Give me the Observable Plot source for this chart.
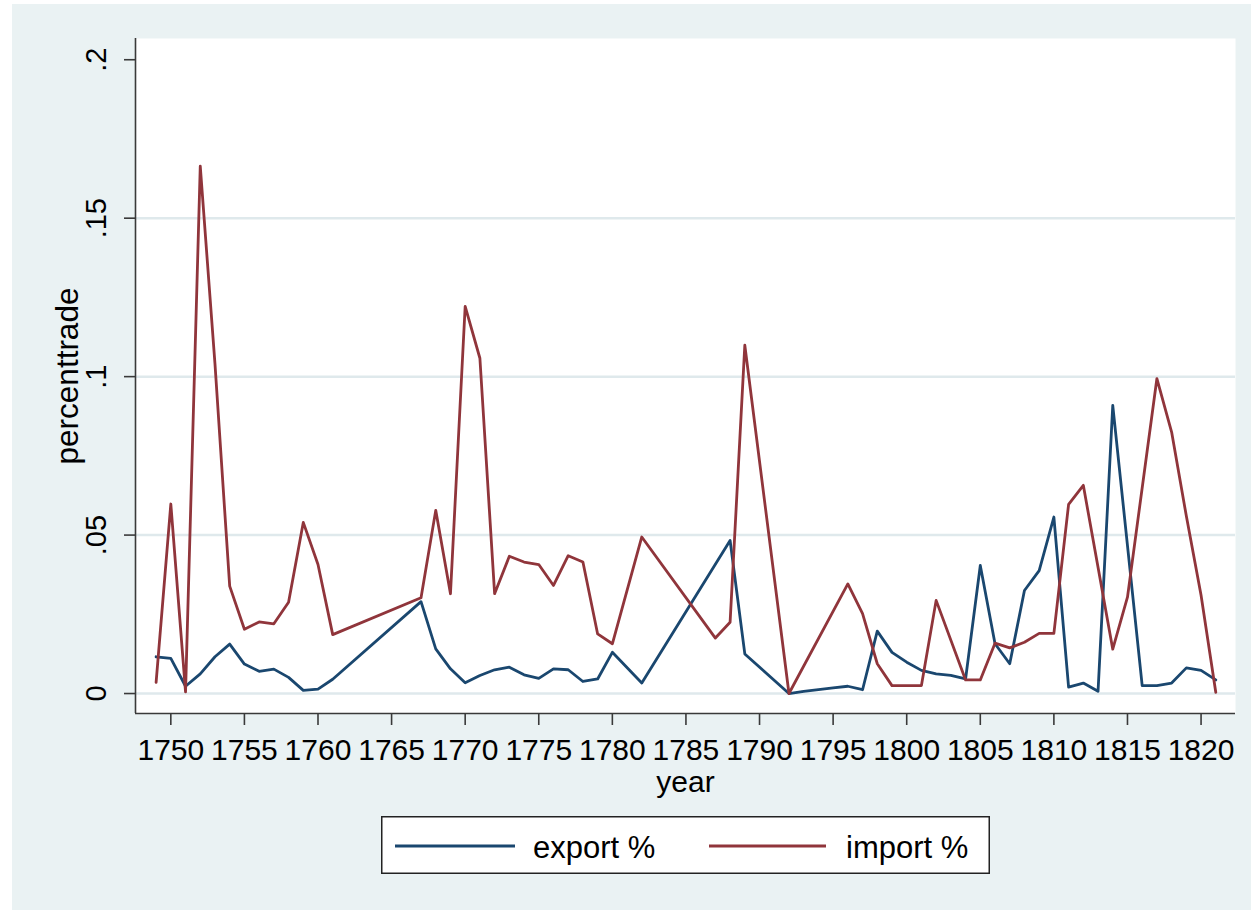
<!DOCTYPE html>
<html><head><meta charset="utf-8">
<script src="https://cdn.jsdelivr.net/npm/d3@7"></script>
<script src="https://cdn.jsdelivr.net/npm/@observablehq/plot@0.6"></script>
<style>
html,body{margin:0;padding:0;background:#fff;}
body{width:1251px;height:912px;position:relative;overflow:hidden;font-family:"Liberation Sans",Arial,sans-serif;}
#panel{position:absolute;left:12px;top:4px;width:1239px;height:906px;background:#eaf2f3;}
#chart{position:absolute;left:0;top:0;}
#legend{position:absolute;left:369px;top:812px;}
</style></head><body>
<div id="panel"><div id="chart"></div><div id="legend"></div></div>
<script>
// ---- data ----
const exportYears  = [1749,1750,1751,1752,1753,1754,1755,1756,1757,1758,1759,1760,1761,1767,1768,1769,1770,1771,1772,1773,1774,1775,1776,1777,1778,1779,1780,1782,1788,1789,1792,1793,1795,1796,1797,1798,1799,1800,1801,1802,1803,1804,1805,1806,1807,1808,1809,1810,1811,1812,1813,1814,1816,1817,1818,1819,1820,1821];
const exportValues = [0.0116,0.0111,0.0023,0.0062,0.0116,0.0156,0.0093,0.0070,0.0077,0.0051,0.0010,0.0014,0.0045,0.0290,0.0141,0.0078,0.0034,0.0057,0.0075,0.0083,0.0059,0.0048,0.0078,0.0075,0.0038,0.0046,0.0130,0.0033,0.0483,0.0125,0.0000,0.0007,0.0018,0.0023,0.0012,0.0197,0.0130,0.0099,0.0073,0.0062,0.0057,0.0046,0.0404,0.0157,0.0094,0.0325,0.0388,0.0557,0.0020,0.0033,0.0007,0.0909,0.0025,0.0025,0.0033,0.0081,0.0073,0.0043];
const importYears  = [1749,1750,1751,1752,1753,1754,1755,1756,1757,1758,1759,1760,1761,1767,1768,1769,1770,1771,1772,1773,1774,1775,1776,1777,1778,1779,1780,1782,1787,1788,1789,1792,1796,1797,1798,1799,1800,1801,1802,1804,1805,1806,1807,1808,1809,1810,1811,1812,1814,1815,1817,1818,1819,1820,1821];
const importValues = [0.0035,0.0598,0.0005,0.1664,0.1040,0.0339,0.0203,0.0226,0.0220,0.0288,0.0540,0.0407,0.0186,0.0302,0.0578,0.0315,0.1222,0.1058,0.0315,0.0433,0.0415,0.0407,0.0341,0.0435,0.0415,0.0188,0.0157,0.0494,0.0175,0.0225,0.1099,0.0000,0.0346,0.0252,0.0094,0.0025,0.0025,0.0025,0.0294,0.0043,0.0043,0.0159,0.0144,0.0162,0.0190,0.0190,0.0597,0.0657,0.0140,0.0304,0.0994,0.0825,0.0560,0.0310,0.0004];
const seriesNames  = ["export %", "import %"];
const seriesColors = ["#1a476f", "#90353b"];
const xTicks       = [1750,1755,1760,1765,1770,1775,1780,1785,1790,1795,1800,1805,1810,1815,1820];
const yTicks       = [0, 0.05, 0.1, 0.15, 0.2];
const yTickLabels  = ["0", ".05", ".1", ".15", ".2"];
const gridTicks    = [0, 0.05, 0.1, 0.15];
const xTitle = "year";
const yTitle = "percenttrade";
const xDomain = [1747.6, 1822.34];
const yDomain = [-0.0063, 0.2067];

const rows = [
  ...exportYears.map((yr, i) => ({series: seriesNames[0], year: yr, value: exportValues[i]})),
  ...importYears.map((yr, i) => ({series: seriesNames[1], year: yr, value: importValues[i]}))
];

const FONT = '"Liberation Sans", Arial, Helvetica, sans-serif';
const AX = "#3a3a3a";

const chart = Plot.plot({
  width: 1239, height: 800,
  marginLeft: 123, marginRight: 16, marginTop: 34, marginBottom: 91,
  style: {background: "transparent", fontFamily: FONT, fontSize: "30px", color: "#000"},
  x: {domain: xDomain, label: null},
  y: {domain: yDomain, label: null},
  color: {domain: seriesNames, range: seriesColors},
  marks: [
    Plot.frame({fill: "white", stroke: "none"}),
    Plot.ruleY(gridTicks, {stroke: "#dfe9ec", strokeWidth: 2.5}),
    Plot.line(rows, {x: "year", y: "value", z: "series", stroke: "series", strokeWidth: 2.8}),
    Plot.ruleX([xDomain[0]], {stroke: AX, strokeWidth: 1.6}),
    Plot.ruleY([yDomain[0]], {stroke: AX, strokeWidth: 1.6}),
    Plot.axisX({ticks: xTicks, tickSize: 12, tickPadding: 13, tickFormat: d => String(d), fontSize: 30, stroke: AX, strokeWidth: 1.6, label: null}),
    Plot.axisY({ticks: yTicks, tickSize: 11, tickFormat: () => "", stroke: AX, strokeWidth: 1.6, label: null}),
    Plot.text(yTicks, {y: d => d, text: (d, i) => yTickLabels[i], frameAnchor: "left", dx: -38.5, rotate: -90, fontSize: 29, textAnchor: "middle", lineAnchor: "middle", fill: "#000"}),
    Plot.text([yTitle], {text: d => d, frameAnchor: "left", dx: -67.5, rotate: -90, fontSize: 31.5, textAnchor: "middle", lineAnchor: "middle", fill: "#000"}),
    Plot.text([xTitle], {text: d => d, frameAnchor: "bottom", dy: 78, fontSize: 30, lineAnchor: "bottom", fill: "#000"})
  ]
});
document.getElementById("chart").appendChild(chart);

// ---- legend (below the plot) ----
const lg = d3.select("#legend").append("svg")
  .attr("width", 609).attr("height", 58)
  .style("font-family", FONT).style("display", "block");
lg.append("rect").attr("x", 0.75).attr("y", 0.75).attr("width", 607.5).attr("height", 56.5)
  .attr("fill", "white").attr("stroke", "#222").attr("stroke-width", 1.5);
const items = [{x1: 14, x2: 134, tx: 152}, {x1: 328, x2: 445, tx: 465}];
seriesNames.forEach((name, i) => {
  lg.append("line").attr("x1", items[i].x1).attr("x2", items[i].x2).attr("y1", 30).attr("y2", 30)
    .attr("stroke", seriesColors[i]).attr("stroke-width", 3);
  lg.append("text").attr("x", items[i].tx).attr("y", 42).attr("font-size", 31).attr("fill", "#000").text(name);
});
</script>
</body></html>
